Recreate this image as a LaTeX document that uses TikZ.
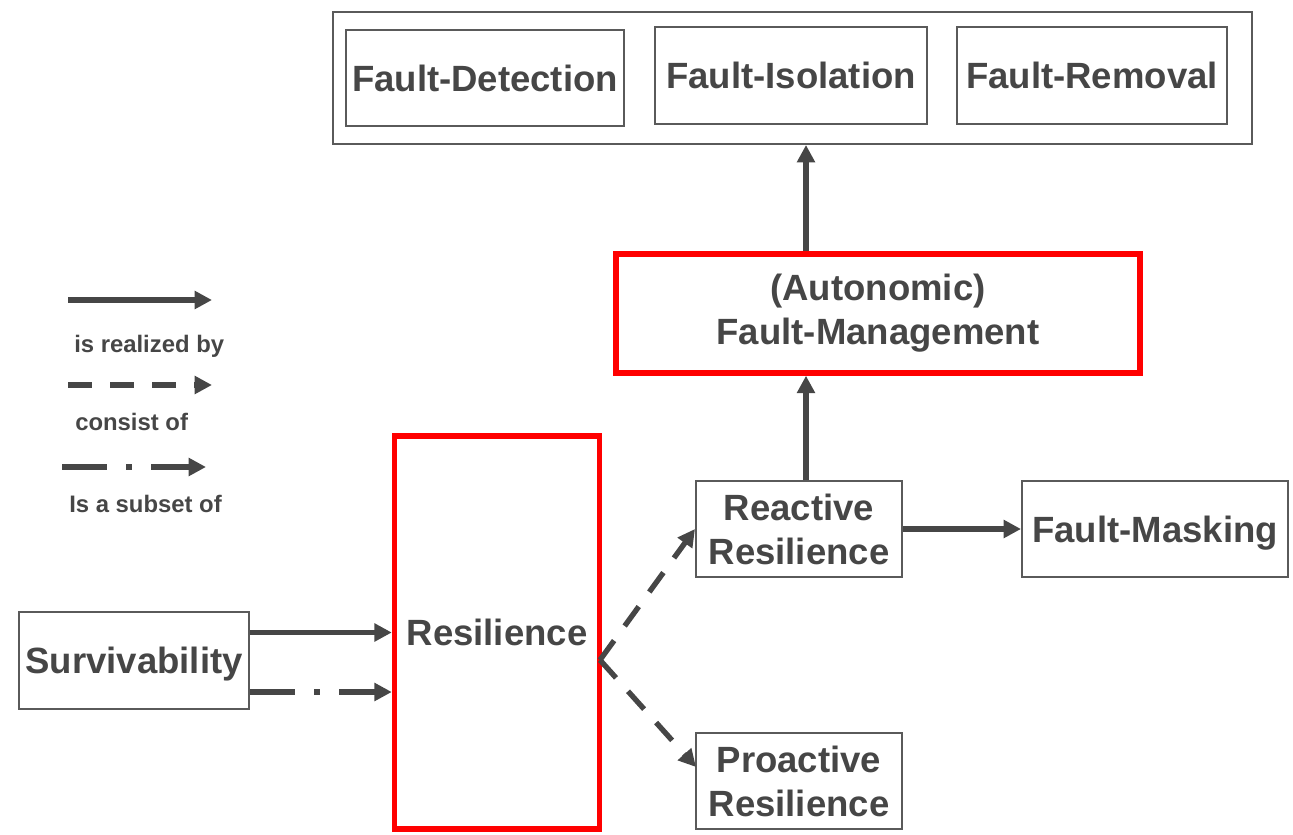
\documentclass[tikz,border=0pt]{standalone}
\usepackage{fontspec}
\setmainfont{Liberation Sans}
\usetikzlibrary{arrows.meta}
\definecolor{ink}{RGB}{70,70,70}
\definecolor{frame}{RGB}{90,90,90}
\definecolor{alert}{RGB}{255,0,0}
\begin{document}
\begin{tikzpicture}[x=0.75pt,y=-0.75pt,
  every node/.style={text=ink, font=\bfseries\fontsize{27.4pt}{33pt}\selectfont},
  box/.style={draw=frame, line width=1.5pt, inner sep=0pt, align=center},
  hot/.style={draw=alert, line width=4.1pt, inner sep=0pt, align=center},
  single/.style={text height=19.6pt, text depth=0pt},
  flow/.style={draw=ink, line width=4pt, -{Triangle[length=13pt,width=13pt]}},
  part/.style={flow, dash pattern=on 18pt off 13.5pt},
  subset/.style={flow, dash pattern=on 33.75pt off 14.25pt on 4.5pt off 14.25pt},
  key/.style={font=\bfseries\fontsize{17.9pt}{21pt}\selectfont, anchor=base west, inner sep=0pt}
]
\useasboundingbox (0,0) rectangle (1293,835);

% fault handling steps
\node[box, minimum width=689.25pt, minimum height=99pt] (group) at (792.5,78) {};
\node[box, single, minimum width=208.5pt, minimum height=72pt] (fd) at (485,78) {Fault-Detection};
\node[box, single, minimum width=204pt, minimum height=72.75pt] (fi) at (791,75.5) {Fault-Isolation};
\node[box, single, minimum width=202.5pt, minimum height=72.75pt] (fr) at (1092,75.5) {Fault-Removal};

% main concepts
\node[hot, minimum width=393pt, minimum height=89.25pt] (fm) at (878,313.5) {(Autonomic)\\Fault-Management};
\node[box, minimum width=154.5pt, minimum height=72pt] (react) at (799,529) {Reactive\\Resilience};
\node[box, single, minimum width=199.5pt, minimum height=72pt] (mask) at (1155,529) {Fault-Masking};
\node[hot, single, minimum width=153.75pt, minimum height=294.75pt] (res) at (497,632.5) {Resilience};
\node[box, single, minimum width=172.5pt, minimum height=72.75pt] (surv) at (134,660.5) {Survivability};
\node[box, minimum width=154.5pt, minimum height=72pt] (pro) at (799,781) {Proactive\\Resilience};

% helper points
\coordinate (vx) at (806,0);
\coordinate (sub) at (0,692);
\coordinate (split) at (600,660);
\coordinate (proin) at (696,767);

% connectors
\draw[flow] (fm.north -| vx) -- (group.south -| vx);
\draw[flow] (react.north -| vx) -- (fm.south -| vx);
\draw[flow] (react.east) -- (mask.west);
\draw[flow] (surv.east |- res) -- (res.west);
\draw[subset] (surv.east |- sub) -- (res.west |- sub);
\draw[part] (split) -- (react.west);
\draw[part] (split) -- (proin);

% legend
\coordinate (k1a) at (68,300);  \coordinate (k1b) at (212,300);
\coordinate (k2a) at (68,385);  \coordinate (k2b) at (212,385);
\coordinate (k3a) at (62,467);  \coordinate (k3b) at (206,467);
\draw[flow] (k1a) -- (k1b);
\draw[part] (k2a) -- (k2b);
\draw[subset] (k3a) -- (k3b);
\node[key] (t1) at (74,352) {is realized by};
\node[key] (t2) at (75,430) {consist of};
\node[key] (t3) at (69,512) {Is a subset of};
\end{tikzpicture}
\end{document}
